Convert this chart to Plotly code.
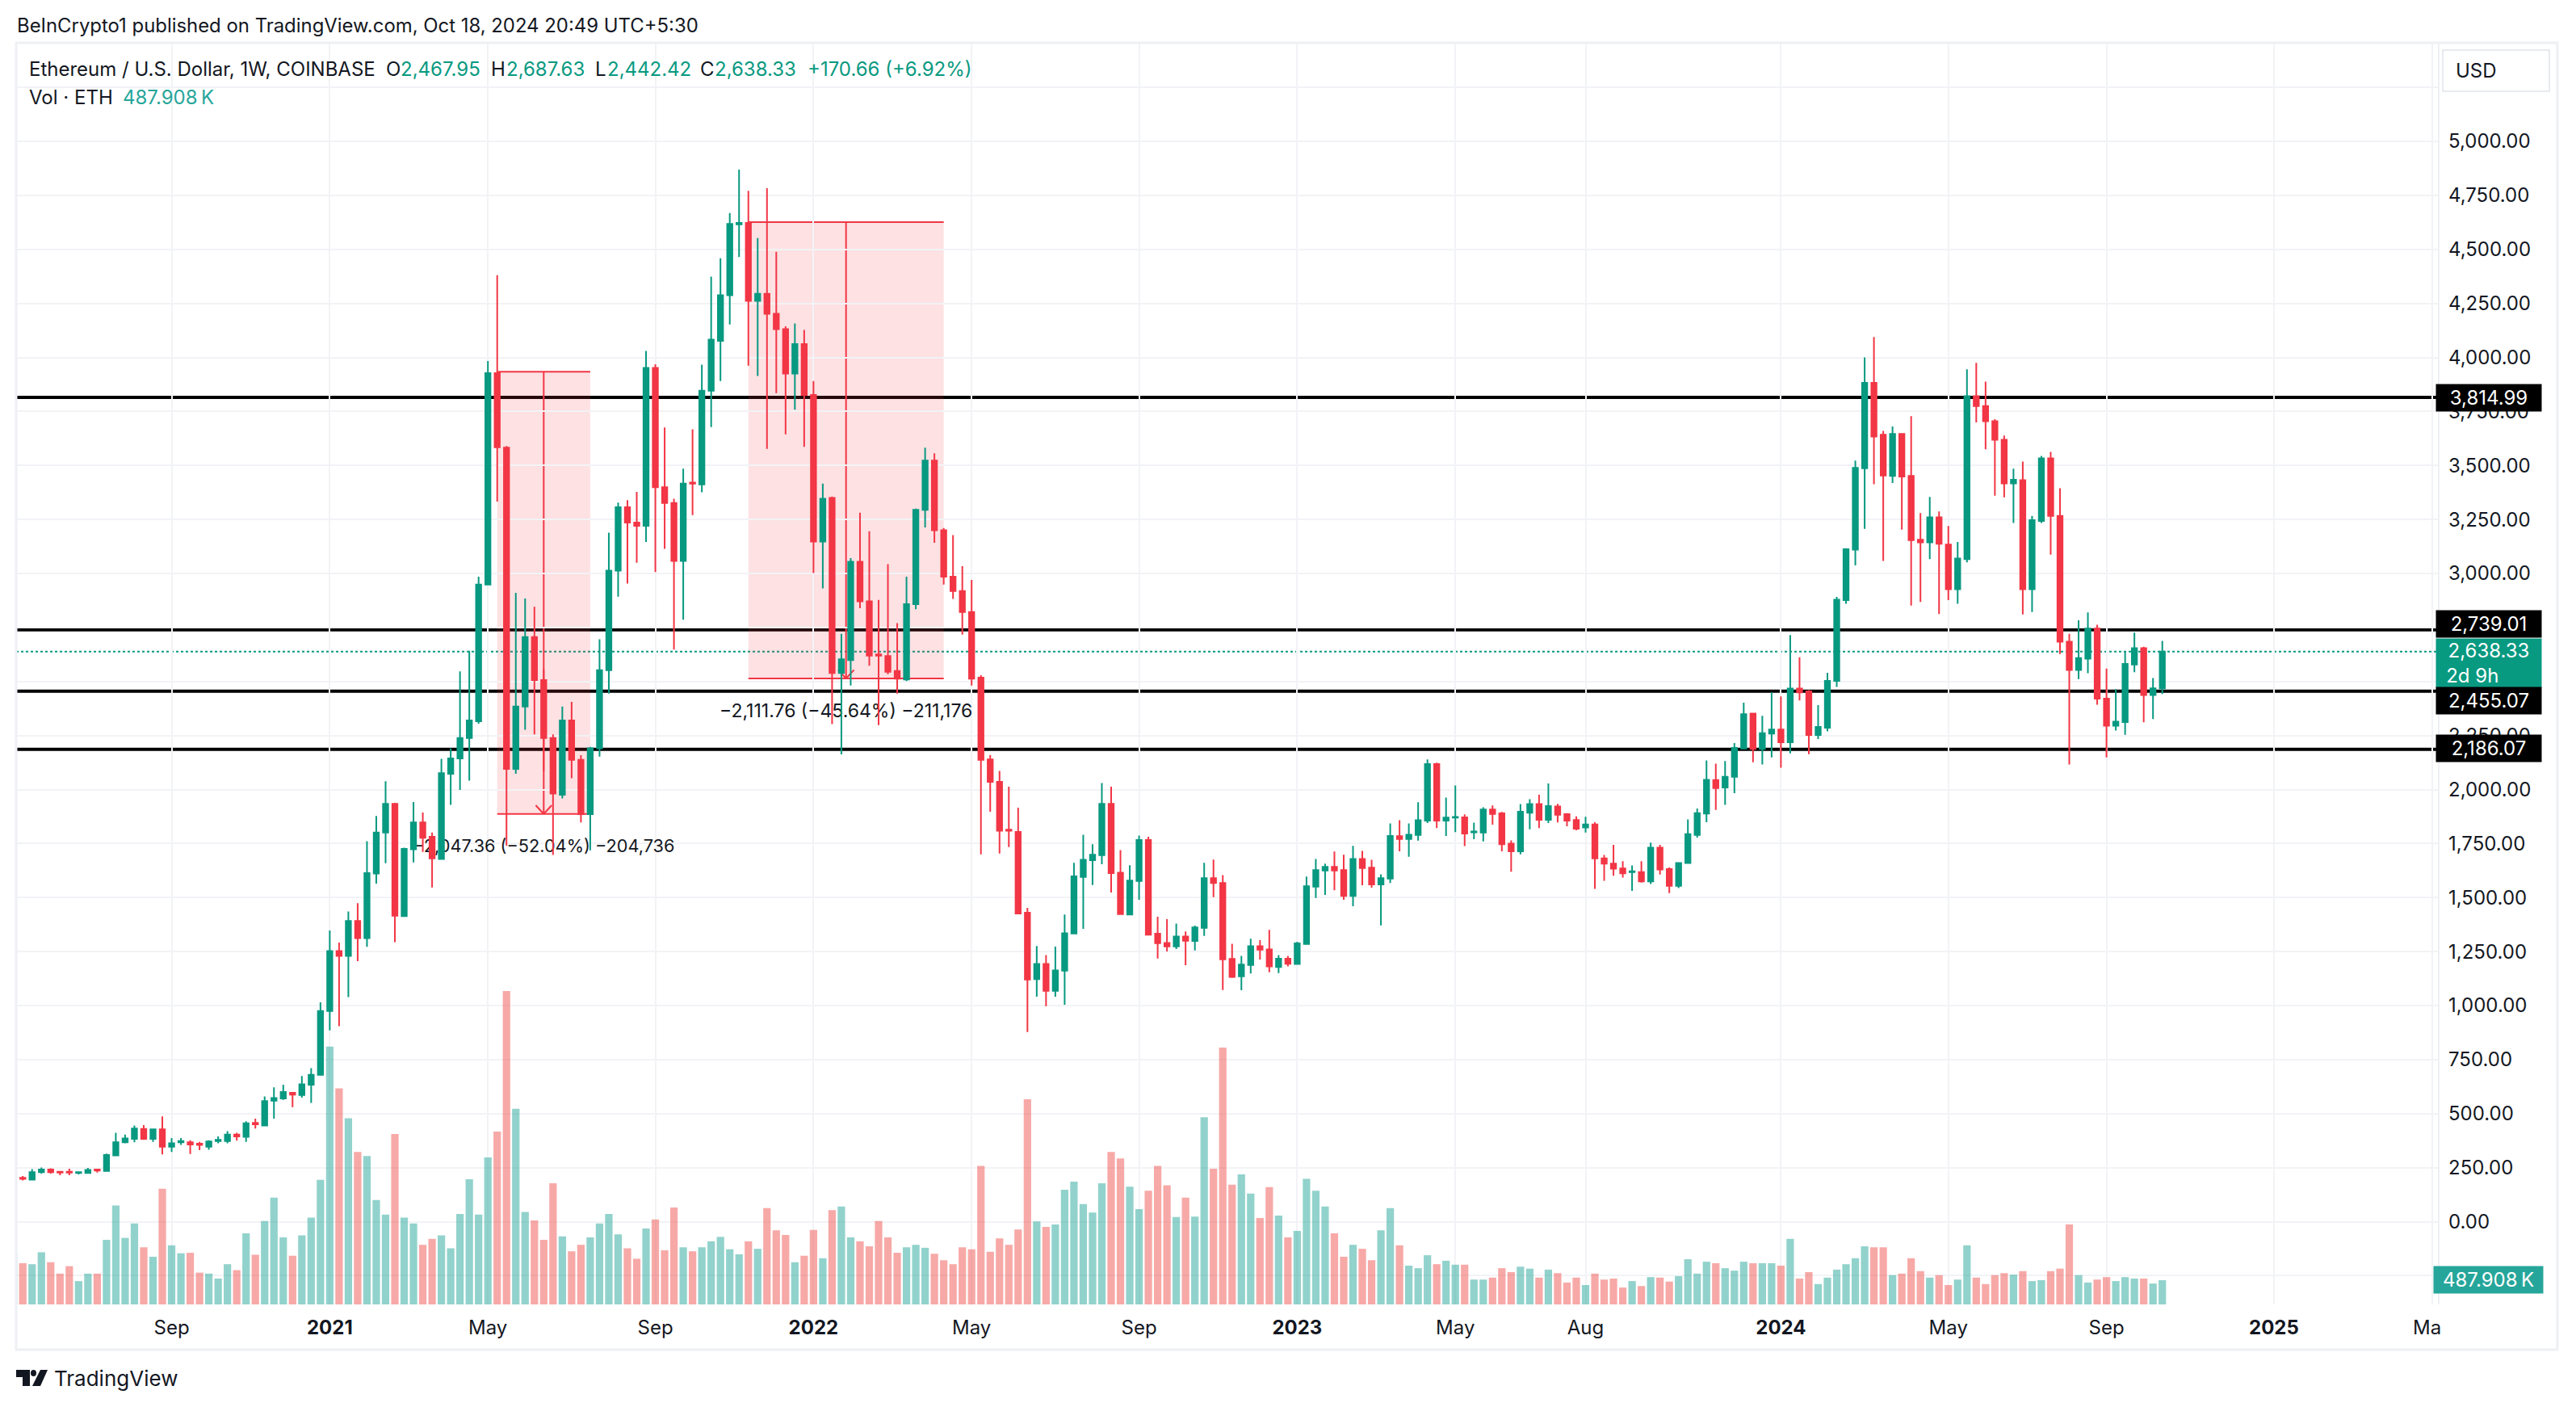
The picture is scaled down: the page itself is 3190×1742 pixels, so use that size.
import pandas as pd
import plotly.graph_objects as go

# Weekly bars
opens = [187,203,195,229,241,231,231,225,225,241,
    235,307,367,383,429,383,427,347,367,367,
    361,347,373,373,403,393,457,445,560,570,
    596,586,634,680,975,1252,1230,1392,1312,1611,
    1801,1934,1414,1723,1848,1781,1679,2073,2144,2238,
    2316,2949,3927,3582,2095,2384,2706,2507,2238,1976,
    2320,2137,1886,2191,2552,3013,3307,3236,3221,3951,
    3399,3326,3058,3421,3412,3846,4077,4288,4616,4622,
    4262,4294,4202,4131,3925,4062,3826,3148,3350,2539,
    2599,3054,2871,2625,2618,2549,2509,2858,3294,3522,
    3200,2985,2919,2822,2518,2139,2036,1814,1804,1430,
    1123,1193,1068,1162,1334,1595,1673,1696,1934,1615,
    1422,1577,1766,1333,1290,1274,1320,1299,1360,1590,
    1567,1216,1136,1188,1275,1260,1179,1217,1193,1285,
    1551,1625,1642,1627,1508,1679,1638,1561,1588,1784,
    1771,1790,1856,2118,1856,1870,1871,1802,1801,1908,
    1890,1750,1714,1893,1933,1860,1922,1886,1859,1824,
    1838,1681,1657,1635,1618,1618,1575,1731,1632,1554,
    1660,1790,1889,2044,2009,2059,2190,2351,2188,2259,
    2278,2219,2467,2454,2252,2286,2503,2877,3110,3487,
    3882,3642,3451,3646,3451,3156,3144,3260,3134,2927,
    3066,3821,3775,3705,3619,3417,3432,2927,3243,3533,
    3266,2684,2553,2606,2745,2421,2295,2312,2579,2654,
    2437,2467.95]
highs = [208,211,243,251,247,235,245,231,249,245,
    315,411,403,445,447,431,487,387,387,377,
    369,377,395,419,411,465,477,580,622,634,
    600,674,710,1015,1348,1292,1436,1474,1761,1878,
    2038,1938,1731,1942,1894,1801,2142,2191,2547,2642,
    2985,3983,4380,3590,2910,2884,2846,2556,2255,2384,
    2406,2159,2197,2695,3189,3328,3339,3378,4030,3968,
    3676,3346,3485,3667,3966,4374,4459,4668,4869,4771,
    4552,4783,4489,4144,4157,4127,3891,3416,3356,2721,
    3071,3281,3195,2878,3043,2770,2985,3300,3582,3556,
    3210,3178,3034,2970,2529,2160,2086,2013,1916,1452,
    1276,1234,1273,1422,1661,1791,1747,2030,2013,1720,
    1650,1787,1781,1411,1400,1380,1343,1370,1661,1676,
    1604,1286,1230,1309,1303,1351,1234,1230,1295,1597,
    1679,1657,1713,1698,1739,1716,1675,1608,1843,1858,
    1843,1941,2139,2124,1963,2019,1885,1847,1918,1926,
    1896,1765,1933,1955,1976,2028,1934,1891,1876,1874,
    1849,1697,1744,1668,1649,1668,1754,1744,1639,1664,
    1862,1912,2135,2120,2132,2215,2402,2354,2341,2450,
    2431,2715,2612,2460,2391,2540,2892,3117,3522,4000,
    4094,3660,3680,3650,3728,3279,3354,3287,3220,3146,
    3945,3975,3888,3714,3638,3485,3518,3266,3544,3563,
    3394,2721,2783,2820,2763,2560,2465,2638,2726,2661,
    2516,2687.63]
lows = [183,191,193,223,223,215,215,219,223,227,
    231,305,363,367,379,369,311,323,355,313,
    331,333,363,363,375,369,431,443,477,564,
    530,574,550,678,885,905,1039,1206,1272,1565,
    1659,1294,1410,1663,1711,1547,1675,1929,1998,2041,
    2305,2947,3333,1740,2073,2277,2255,2084,1697,1959,
    2052,1848,1719,2152,2444,2893,2953,3050,3146,3007,
    3114,2648,2786,3270,3376,3678,3891,4152,4464,3962,
    3914,3577,3835,3644,3758,3586,3002,2931,2303,2163,
    2481,2839,2573,2298,2534,2444,2502,2835,3213,3142,
    2949,2882,2717,2481,1700,1897,1704,1734,1423,878,
    1041,997,1041,1004,1333,1355,1558,1654,1523,1422,
    1420,1490,1325,1218,1251,1262,1187,1255,1323,1502,
    1072,1128,1071,1149,1213,1154,1151,1181,1191,1284,
    1498,1512,1534,1490,1460,1557,1546,1371,1567,1714,
    1689,1764,1845,1822,1785,1803,1738,1770,1760,1837,
    1714,1620,1700,1816,1822,1845,1848,1830,1811,1801,
    1540,1578,1601,1593,1531,1569,1563,1607,1521,1544,
    1658,1778,1849,1906,1929,1983,2188,2126,2116,2149,
    2101,2167,2412,2164,2234,2269,2475,2860,3037,3207,
    3413,3058,3419,3203,2851,2868,3066,2812,2877,2860,
    3051,3699,3575,3360,3352,3234,2810,2822,3234,3087,
    2627,2116,2511,2538,2393,2149,2273,2253,2543,2311,
    2326,2442.42]
closes = [203,198,229,241,229,227,227,229,239,237,
    309,367,385,431,383,427,347,363,373,357,
    355,371,379,403,395,455,451,558,572,600,
    588,636,680,975,1252,1230,1392,1312,1613,1801,
    1934,1416,1725,1848,1777,1681,2076,2144,2238,2320,
    2949,3927,3584,2095,2384,2706,2507,2238,1981,2320,
    2137,1886,2191,2552,3013,3307,3236,3221,3951,3399,
    3326,3058,3416,3416,3846,4082,4288,4618,4622,4262,
    4294,4202,4131,3925,4062,3826,3148,3346,2539,2603,
    3054,2871,2620,2620,2545,2513,2858,3294,3522,3200,
    2985,2919,2822,2513,2137,2036,1809,1809,1426,1121,
    1193,1068,1163,1335,1598,1675,1698,1934,1613,1423,
    1579,1766,1328,1289,1274,1320,1300,1362,1590,1567,
    1214,1133,1190,1275,1259,1181,1217,1194,1288,1552,
    1627,1642,1625,1508,1679,1637,1561,1590,1785,1771,
    1791,1858,2118,1856,1870,1873,1796,1806,1908,1887,
    1747,1714,1897,1933,1860,1923,1883,1856,1819,1838,
    1681,1657,1634,1612,1622,1575,1731,1630,1554,1660,
    1794,1891,2045,2007,2059,2193,2349,2188,2261,2278,
    2219,2467,2450,2252,2290,2503,2879,3112,3489,3882,
    3634,3453,3646,3449,3154,3144,3260,3137,2927,3069,
    3821,3775,3705,3619,3417,3434,2927,3247,3533,3266,
    2684,2553,2608,2745,2421,2295,2314,2581,2654,2437,
    2468,2638.33]
volumes = [1030,830,810,1050,850,620,770,470,620,620,
    1300,1990,1340,1630,1150,960,2330,1190,1030,1040,
    640,620,520,810,690,1430,1000,1680,2150,1350,
    980,1390,1750,2510,5190,4350,3750,3070,2990,2100,
    1810,3430,1750,1630,1200,1320,1390,1130,1820,2520,
    1810,2960,3480,6310,3940,1860,1690,1300,2440,1370,
    1070,1200,1350,1630,1820,1410,1130,920,1530,1710,
    1090,1950,1150,1070,1150,1270,1360,1110,1010,1270,
    1120,1940,1490,1400,850,980,1500,930,1900,1970,
    1350,1270,1170,1680,1350,1040,1150,1200,1140,1020,
    890,810,1150,1110,2790,1060,1330,1200,1510,4130,
    1670,1560,1610,2310,2470,2020,1850,2440,3070,2940,
    2370,1920,2290,2790,2400,1760,2150,1770,3770,2730,
    5170,2410,2620,2230,1740,2360,1790,1350,1480,2530,
    2290,1970,1430,960,1200,1120,890,1490,1940,1190,
    780,730,990,810,880,800,800,500,500,540,
    730,650,760,720,540,700,630,440,540,390,
    620,500,520,340,470,370,550,540,460,570,
    910,620,860,830,730,680,860,830,830,830,
    780,1320,520,650,410,540,700,810,930,1170,
    1150,1150,590,620,930,670,540,590,390,500,
    1190,540,410,590,630,600,670,470,490,670,
    720,1610,590,440,500,550,470,550,520,520,
    420,487.908]

dates = pd.date_range('2020-05-11', periods=len(opens), freq='7D')

price_ticks = list(range(-250, 5251, 250))
price_labels = ['' if p in (-250, 5250) else f'{p:,.2f}' for p in price_ticks]
time_ticks = ['2020-09-07', '2021-01-04', '2021-05-03', '2021-09-06', '2022-01-03', '2022-05-02',
              '2022-09-05', '2023-01-02', '2023-05-01', '2023-08-07', '2024-01-01', '2024-05-06',
              '2024-09-02', '2025-01-06', '2025-05-05']
time_labels = ['Sep', '<b>2021</b>', 'May', 'Sep', '<b>2022</b>', 'May', 'Sep', '<b>2023</b>',
               'May', 'Aug', '<b>2024</b>', 'May', 'Sep', '<b>2025</b>', '']

levels = [3814.99, 2739.01, 2455.07, 2186.07]
last_close = 2638.33
# start index, end index, top price, bottom price, label, label price
drops = [(52, 62, 3934, 1887, '\u22122,047.36 (\u221252.04%) \u2212204,736', 1732),
         (79, 100, 4626, 2514, '\u22122,111.76 (\u221245.64%) \u2212211,176', 2355)]
drop_label_sizes = [21.7, 23]

UP, DOWN = '#089981', '#F23645'
VOL_UP, VOL_DOWN = 'rgba(38,166,154,0.5)', 'rgba(239,83,80,0.5)'
INK = '#131722'
GRID = '#f2f3f6'
FONT = 'Inter'

# pane edges in pixels, the overlays below are placed against these
W, H = 3190, 1742
LEFT, RIGHT, TOP, BOTTOM = 20, 3020, 53, 1615
PRICE_MIN, PRICE_MAX = -383, 5456
VOLUME_MAX = 25400


def px(x):
    return (x - LEFT) / (RIGHT - LEFT)


def py(y):
    return (BOTTOM - y) / (BOTTOM - TOP)


def price_on_volume_axis(p):
    return (p - PRICE_MIN) / (PRICE_MAX - PRICE_MIN) * VOLUME_MAX


def label(text, x, y, color=INK, size=24, anchor='left', **kw):
    return dict(text=text, xref='paper', yref='paper', x=px(x), y=py(y), xanchor=anchor, yanchor='middle',
                showarrow=False, font=dict(family=FONT, size=size, color=color), **kw)


def axis_box(text, x0, x1, y, height, bg, color='white'):
    return label(text, (x0 + x1) / 2, y, color=color, anchor='center', bgcolor=bg, width=x1 - x0,
                 height=height, borderpad=0, align='center', valign='middle')


fig = go.Figure()

fig.add_trace(go.Bar(
    x=dates, y=volumes, yaxis='y', hoverinfo='skip',
    marker_color=[VOL_UP if c >= o else VOL_DOWN for o, c in zip(opens, closes)],
    marker_line_width=0,
))

# on the volume axis so the candles stay above this text, as in the original
fig.add_trace(go.Scatter(
    x=[dates[d[0]] + (dates[d[1]] - dates[d[0]]) / 2 for d in drops],
    y=[price_on_volume_axis(d[5]) for d in drops],
    text=[d[4] for d in drops], mode='text', yaxis='y', hoverinfo='skip',
    textfont=dict(family=FONT, size=drop_label_sizes, color=INK),
))

fig.add_trace(go.Candlestick(
    x=dates, open=opens, high=highs, low=lows, close=closes, yaxis='y2', hoverinfo='skip',
    increasing=dict(line=dict(color=UP, width=2), fillcolor=UP),
    decreasing=dict(line=dict(color=DOWN, width=2), fillcolor=DOWN),
    whiskerwidth=0,
))

shapes = []
for lvl in levels:
    shapes.append(dict(type='line', xref='x domain', yref='y2', x0=0, x1=1, y0=lvl, y1=lvl,
                       line=dict(color='black', width=4), layer='below'))
shapes.append(dict(type='line', xref='x domain', yref='y2', x0=0, x1=1, y0=last_close, y1=last_close,
                   line=dict(color=UP, width=2, dash='dot'), layer='below'))

for start, end, top, bottom, _, _ in drops:
    x0, x1 = dates[start], dates[end]
    mid = x0 + (x1 - x0) / 2
    week = pd.Timedelta(days=6)
    line = dict(color=DOWN, width=2)
    shapes.append(dict(type='rect', xref='x', yref='y2', x0=x0, x1=x1, y0=bottom, y1=top,
                       fillcolor='rgba(242,54,69,0.15)', line_width=0, layer='below'))
    for a, b, c, d in [(x0, x1, top, top), (x0, x1, bottom, bottom), (mid, mid, top, bottom),
                       (mid - week, mid, bottom + 40, bottom), (mid + week, mid, bottom + 40, bottom)]:
        shapes.append(dict(type='line', xref='x', yref='y2', x0=a, x1=b, y0=c, y1=d, line=line, layer='below'))

# chart frame
frame = dict(color='#eef0f4', width=3)
shapes.append(dict(type='rect', xref='paper', yref='paper', x0=px(20), x1=px(3167), y0=py(1671), y1=py(53),
                   line=frame))
shapes.append(dict(type='line', xref='paper', yref='paper', x0=1, x1=1, y0=py(1615), y1=py(53),
                   line=dict(color='#eef0f4', width=2)))
shapes.append(dict(type='rect', xref='paper', yref='paper', x0=px(3025), x1=px(3157), y0=py(113), y1=py(62),
                   line=dict(color='#e0e3eb', width=1.5), fillcolor='white'))

# TradingView mark
mark = dict(type='path', xref='paper', yref='paper', fillcolor=INK, line_width=0)


def poly(points):
    return 'M' + 'L'.join(f'{px(x)},{py(y)}' for x, y in points) + 'Z'


shapes.append(dict(mark, path=poly([(20, 1696), (37, 1696), (37, 1716), (28, 1716), (28, 1705), (20, 1705)])))
shapes.append(dict(type='circle', xref='paper', yref='paper', x0=px(38), x1=px(45), y0=py(1704), y1=py(1696),
                   fillcolor=INK, line_width=0))
shapes.append(dict(mark, path=poly([(50, 1696), (59, 1696), (50, 1716), (40, 1716)])))

annotations = [
    label('BeInCrypto1 published on TradingView.com, Oct 18, 2024 20:49 UTC+5:30', 19, 32, size=23.9),
    label('Ethereum / U.S. Dollar, 1W, COINBASE', 34, 86),
    label('O', 476, 86), label('2,467.95', 494, 86, UP),
    label('H', 606, 86), label('2,687.63', 625, 86, UP),
    label('L', 735, 86), label('2,442.42', 750, 86, UP),
    label('C', 865, 86), label('2,638.33', 883, 86, UP),
    label('+170.66 (+6.92%)', 998, 86, UP),
    label('Vol \u00b7 ETH', 34, 120),
    label('487.908\u2009K', 150, 120, '#26a69a'),
    label('USD', 3039, 87),
    label('Ma', 2986, 1643),
    axis_box('3,814.99', 3017, 3147, 492, 33, 'black'),
    axis_box('2,739.01', 3017, 3147, 773, 33, 'black'),
    axis_box('2,638.33<br>2d 9h' + '&nbsp;' * 6, 3017, 3147, 821, 60, UP),
    axis_box('2,455.07', 3017, 3147, 868, 33, 'black'),
    axis_box('2,186.07', 3017, 3147, 927, 33, 'black'),
    axis_box('487.908\u2009K', 3014, 3149, 1584, 33, '#26a69a'),
    label('TradingView', 65, 1706, size=26),
]

fig.update_layout(
    width=W, height=H,
    margin=dict(l=LEFT, r=W - RIGHT, t=TOP, b=H - BOTTOM, pad=0),
    paper_bgcolor='white', plot_bgcolor='white',
    showlegend=False, bargap=0.2, boxgap=0.45, boxgroupgap=0,
    font=dict(family=FONT, color=INK, size=24),
    shapes=shapes, annotations=annotations,
    xaxis=dict(type='date', range=['2020-05-13', '2025-05-10'], rangeslider_visible=False,
               tickmode='array', tickvals=time_ticks, ticktext=time_labels, ticks='',
               ticklabelstandoff=12, showgrid=True, gridcolor=GRID, gridwidth=2,
               zeroline=False, showline=False, tickfont=dict(family=FONT, size=24, color=INK)),
    yaxis=dict(range=[0, VOLUME_MAX], visible=False, showgrid=False, zeroline=False, fixedrange=True),
    yaxis2=dict(range=[PRICE_MIN, PRICE_MAX], overlaying='y', side='right', anchor='x',
                tickmode='array', tickvals=price_ticks, ticktext=price_labels, ticks='',
                ticklabelstandoff=11, showgrid=True, gridcolor=GRID, gridwidth=2,
                zeroline=False, showline=False, tickfont=dict(family=FONT, size=24, color=INK)),
)

fig.write_html("out.html", config=dict(displayModeBar=False), post_script="document.body.style.margin='0';")
